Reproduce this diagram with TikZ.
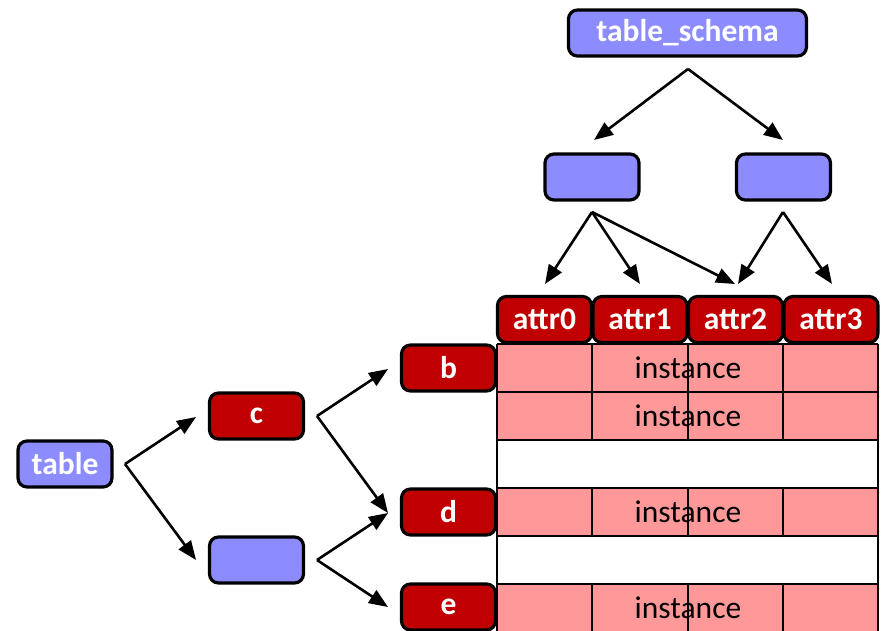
\documentclass[tikz,border=0pt]{standalone}
\usepackage{fontspec}
\setmainfont{Carlito}
\usetikzlibrary{arrows.meta}
\definecolor{schemablue}{RGB}{140,140,255}
\definecolor{keyred}{RGB}{192,0,0}
\definecolor{rowpink}{RGB}{255,153,153}
\begin{document}
\begin{tikzpicture}[x=1pt,y=-1pt,
  box/.style={draw=black, line width=3.2pt, rounded corners=9pt,
    minimum width=94pt, minimum height=46pt, inner sep=0pt,
    font=\fontsize{31.5}{36}\selectfont\bfseries, text=white},
  bluebox/.style={box, fill=schemablue},
  redbox/.style={box, fill=keyred},
  link/.style={line width=2.6pt, -{Triangle[length=19pt,width=15pt]}},
  grid/.style={line width=1.6pt, draw=black},
  celltext/.style={font=\fontsize{31.5}{36}\selectfont, text=black, inner sep=0pt}]
\clip (0,0) rectangle (882,630);
\useasboundingbox (0,0) rectangle (882,630);

% table rows: pink rows hold instances, white rows are empty
\fill[rowpink] (497,344) rectangle (878,440);
\fill[rowpink] (497,488) rectangle (878,536);
\fill[rowpink] (497,584) rectangle (878,640);
\node[celltext] (inst1) at (688,368) {instance};
\node[celltext] (inst2) at (688,416) {instance};
\node[celltext] (inst3) at (688,512) {instance};
\node[celltext] (inst4) at (688,608) {instance};
% grid lines
\foreach \y in {344,392,440,488,536,584}
  \draw[grid] (497,\y) -- (878,\y);
\draw[grid] (497,344) -- (497,640);
\draw[grid] (878,344) -- (878,640);
\foreach \x in {592,688,783}{
  \draw[grid] (\x,344) -- (\x,440);
  \draw[grid] (\x,488) -- (\x,536);
  \draw[grid] (\x,584) -- (\x,640);
}

% schema tree
\node[bluebox, minimum width=238pt] (ts) at (687.5,33) {table\_schema};
\node[bluebox] (sl) at (592,177) {};
\node[bluebox] (sr) at (783.5,177) {};
\node[redbox] (attr0) at (544.5,319.5) {attr0};
\node[redbox] (attr1) at (640,319.5) {attr1};
\node[redbox] (attr2) at (735.5,319.5) {attr2};
\node[redbox] (attr3) at (831,319.5) {attr3};

% key tree
\node[bluebox] (tbl) at (65,464) {table};
\node[redbox] (c) at (256.5,416) {c};
\node[bluebox] (bl) at (256.5,560) {};
\node[redbox] (b) at (448.5,368) {b};
\node[redbox] (d) at (448.5,512) {d};
\node[redbox] (e) at (448.5,607) {e};

% connector end points
\coordinate (tsf) at (688,69);
\coordinate (slt) at (594,140);
\coordinate (srt) at (783,140);
\coordinate (slf) at (592,212);
\coordinate (srf) at (783,212);
\coordinate (a0t) at (545,284);
\coordinate (a1t) at (640,284);
\coordinate (a2t) at (735,284);
\coordinate (a2r) at (738,284);
\coordinate (a3t) at (832,284);
\coordinate (tblf) at (125,464);
\coordinate (ct) at (196,417);
\coordinate (blt) at (196,560);
\coordinate (cf) at (317,416);
\coordinate (blf) at (317,560);
\coordinate (bt) at (388,369);
\coordinate (dt) at (388,513);
\coordinate (et) at (388,607);

\draw[link] (tsf) -- (slt);
\draw[link] (tsf) -- (srt);
\draw[link] (slf) -- (a0t);
\draw[link] (slf) -- (a1t);
\draw[link] (slf) -- (a2t);
\draw[link] (srf) -- (a2r);
\draw[link] (srf) -- (a3t);

\draw[link] (tblf) -- (ct);
\draw[link] (tblf) -- (blt);
\draw[link] (cf) -- (bt);
\draw[link] (cf) -- (dt);
\draw[link] (blf) -- (dt);
\draw[link] (blf) -- (et);
\end{tikzpicture}
\end{document}
